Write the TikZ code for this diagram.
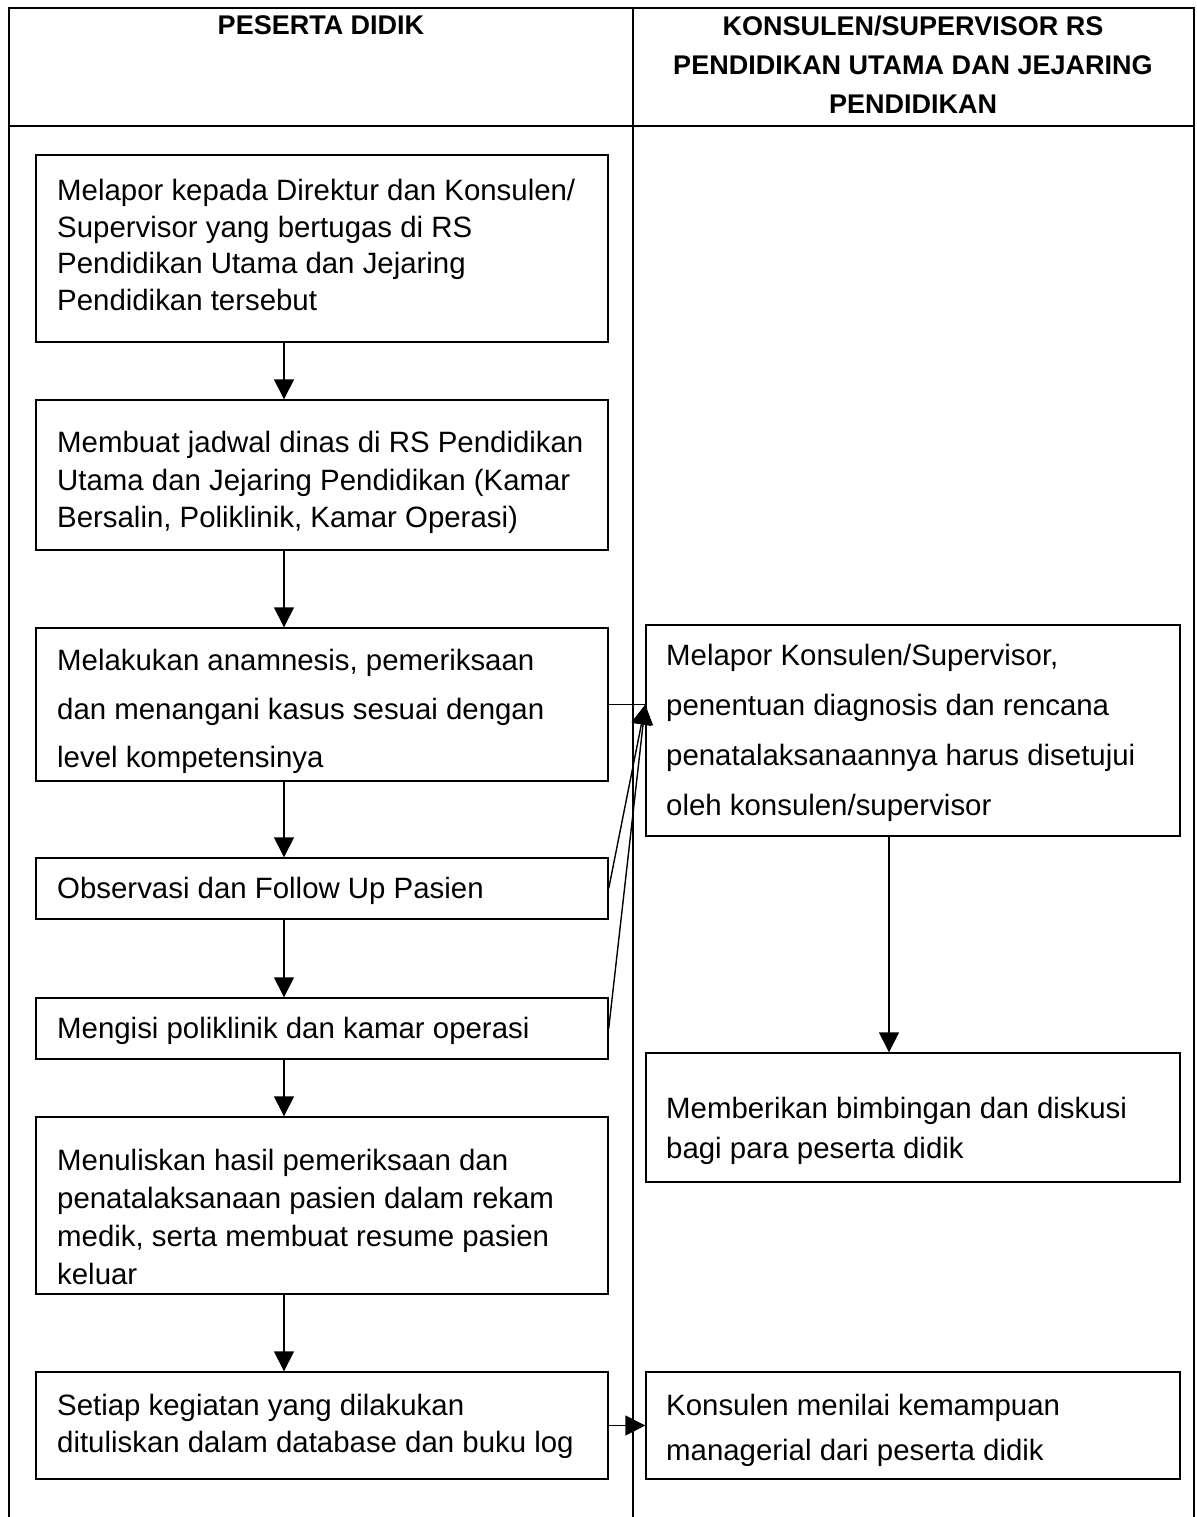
\documentclass[tikz,border=0pt]{standalone}
\usepackage{fontspec}
\setmainfont{Liberation Sans}
\usetikzlibrary{calc,arrows.meta}

% a framed step: name, x1, y1, x2, y2 (y grows downwards)
\newcommand{\flowbox}[5]{%
  \node[stepbox, minimum width={#4pt-#2pt}, minimum height={#5pt-#3pt}]
    (#1) at ({(#2+#4)/2},{(#3+#5)/2}) {};}

\begin{document}
\begin{tikzpicture}[x=1pt, y=-1pt,
  frameline/.style={line width=2.4pt},
  stepbox/.style={draw, rectangle, line width=1.4pt, inner sep=0pt},
  steptext/.style={inner sep=0pt, align=left, anchor=north west},
  headtext/.style={inner sep=0pt, align=center, anchor=north,
    font=\fontsize{27}{39}\selectfont\bfseries},
  flow/.style={line width=1.4pt, -{Triangle[length=20pt,width=20pt]}},
  plain/.style={line width=1.4pt}]
\useasboundingbox (0,0) rectangle (1196,1517);

% table frame
\draw[frameline] (9,1517) -- (9,8) -- (1194,8) -- (1194,1517);
\draw[frameline] (9,126) -- (1194,126);
\draw[frameline] (633,8) -- (633,1517);

% column headings (top of the capitals)
\node[headtext] (h1) at (321,15.5) {PESERTA DIDIK};
\node[headtext] (h2) at (913,15.5) {KONSULEN/SUPERVISOR RS\\PENDIDIKAN UTAMA DAN JEJARING\\PENDIDIKAN};

% left column steps
\flowbox{b1}{36}{155}{608}{342}
\flowbox{b2}{36}{400}{608}{550}
\flowbox{b3}{36}{628}{608}{781}
\flowbox{b4}{36}{858}{608}{919}
\flowbox{b5}{36}{998}{608}{1059}
\flowbox{b6}{36}{1117}{608}{1294}
\flowbox{b7}{36}{1372}{608}{1479}

% right column steps
\flowbox{r1}{646}{625}{1180}{836}
\flowbox{r2}{646}{1053}{1180}{1182}
\flowbox{r3}{646}{1372}{1180}{1479}

% step texts, placed by the top of their first line
\node[steptext, font=\fontsize{29.4}{36.5}\selectfont] (t1) at (57,179)
  {Melapor kepada Direktur dan Konsulen/\\Supervisor yang bertugas di RS\\Pendidikan Utama dan Jejaring\\Pendidikan tersebut};
\node[steptext, font=\fontsize{29.4}{37.5}\selectfont] (t2) at (57,431)
  {Membuat jadwal dinas di RS Pendidikan\\Utama dan Jejaring Pendidikan (Kamar\\Bersalin, Poliklinik, Kamar Operasi)};
\begin{scope}
  \clip (b3.north west) rectangle (b3.south east);
  \node[steptext, font=\fontsize{29.4}{48.5}\selectfont] (t3) at (57,649)
    {Melakukan anamnesis, pemeriksaan\\dan menangani kasus sesuai dengan\\level kompetensinya};
\end{scope}
\node[steptext, font=\fontsize{29.4}{36.5}\selectfont] (t4) at (57,877)
  {Observasi dan Follow Up Pasien};
\node[steptext, font=\fontsize{29.4}{36.5}\selectfont] (t5) at (57,1017)
  {Mengisi poliklinik dan kamar operasi};
\node[steptext, font=\fontsize{29.4}{38}\selectfont] (t6) at (57,1149)
  {Menuliskan hasil pemeriksaan dan\\penatalaksanaan pasien dalam rekam\\medik, serta membuat resume pasien\\keluar};
\node[steptext, font=\fontsize{29.4}{37}\selectfont] (t7) at (57,1394)
  {Setiap kegiatan yang dilakukan\\dituliskan dalam database dan buku log};

\node[steptext, font=\fontsize{29.4}{50}\selectfont] (s1) at (666,644)
  {Melapor Konsulen/Supervisor,\\penentuan diagnosis dan rencana\\penatalaksanaannya harus disetujui\\oleh konsulen/supervisor};
\node[steptext, font=\fontsize{29.4}{40}\selectfont] (s2) at (666,1097)
  {Memberikan bimbingan dan diskusi\\bagi para peserta didik};
\node[steptext, font=\fontsize{29.4}{45}\selectfont] (s3) at (666,1394)
  {Konsulen menilai kemampuan\\managerial dari peserta didik};

% connectors
\coordinate (ax) at (284,0);
\coordinate (bx) at (889,0);
\draw[flow] (b1.south -| ax) -- (b2.north -| ax);
\draw[flow] (b2.south -| ax) -- (b3.north -| ax);
\draw[flow] (b3.south -| ax) -- (b4.north -| ax);
\draw[flow] (b4.south -| ax) -- (b5.north -| ax);
\draw[flow] (b5.south -| ax) -- (b6.north -| ax);
\draw[flow] (b6.south -| ax) -- (b7.north -| ax);
\draw[flow] (r1.south -| bx) -- (r2.north -| bx);

\coordinate (meet) at (b3.east -| r1.west);
\draw[plain] (b3.east) -- (meet);
\draw[flow] (b4.east) -- (meet);
\draw[flow] (b5.east) -- (meet);
\draw[flow] (b7.east) -- (b7.east -| r3.west);
\end{tikzpicture}
\end{document}
